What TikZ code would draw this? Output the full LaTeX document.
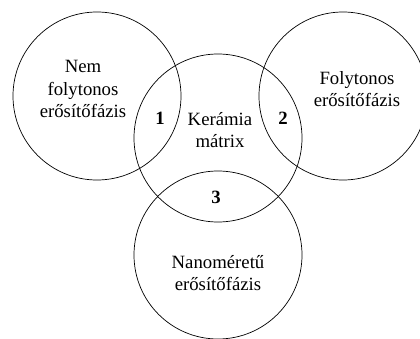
\documentclass[tikz,border=0pt]{standalone}
\usepackage{fontspec}
\setmainfont{Liberation Serif}
\begin{document}
\begin{tikzpicture}[x=0.03cm, y=-0.03cm,
    kor/.style={draw, circle, line width=0.6pt, minimum size=5.04cm, inner sep=0pt},
    felirat/.style={align=center, font=\fontsize{16}{19.2}\selectfont},
    szam/.style={font=\fontsize{16}{19.2}\selectfont\bfseries}]

    \useasboundingbox (0,0) rectangle (420,339);

    % Korok
    \node[kor] (bal) at (97,96) {};
    \node[kor] (kozep) at (218,138) {};
    \node[kor] (jobb) at (343,96) {};
    \node[kor] (also) at (218,255) {};

    % Feliratok
    \node[felirat] (nem) at (83,89) {Nem\\folytonos\\erősítőfázis};
    \node[felirat] (keramia) at (220,130) {Kerámia\\mátrix};
    \node[felirat] (folyt) at (357,89) {Folytonos\\erősítőfázis};
    \node[felirat] (nano) at (218,273) {Nanoméretű\\erősítőfázis};

    % Szamok
    \node[szam] (egy) at (160,118) {1};
    \node[szam] (ketto) at (283,118) {2};
    \node[szam] (harom) at (216,197) {3};

\end{tikzpicture}
\end{document}
